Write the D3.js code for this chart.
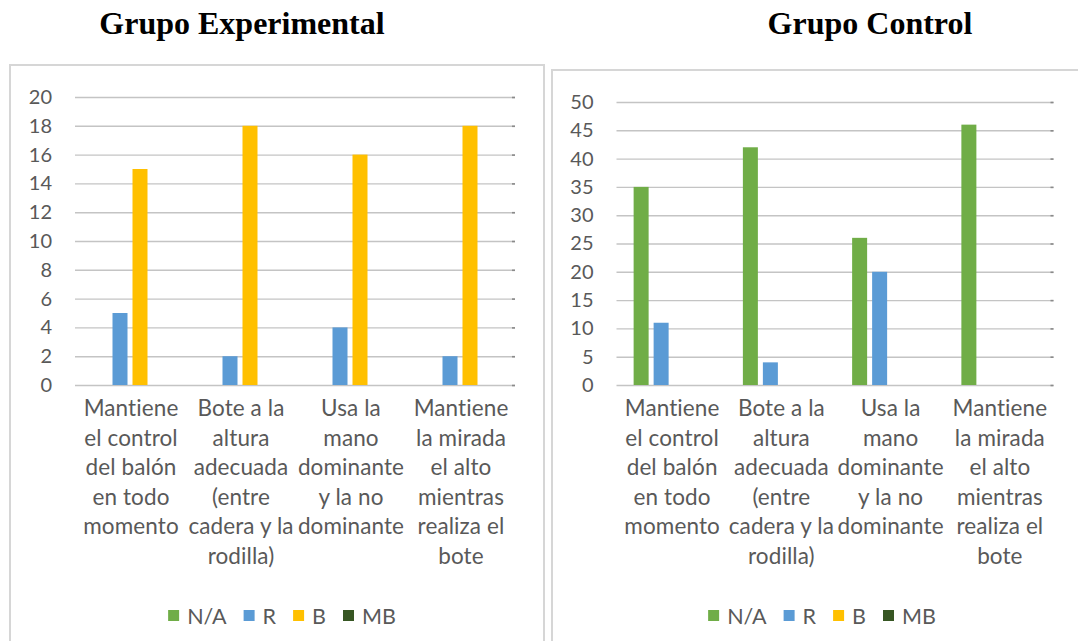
<!DOCTYPE html>
<html>
<head>
<meta charset="utf-8">
<script src="https://cdn.jsdelivr.net/npm/d3@7/dist/d3.min.js"></script>
<style>
  body { margin: 0; background: #fff; }
  .lbl { font-family: Lato, "Open Sans", sans-serif; fill: #595959; }
  .title { font-family: "Liberation Serif", "Times New Roman", serif; font-weight: bold; fill: #000; }
</style>
</head>
<body>
<div id="chart"></div>
<script>
/**
 * Data
 */
// category labels, one array of lines per category
var categories = [
  ["Mantiene", "el control", "del balón", "en todo", "momento"],
  ["Bote a la", "altura", "adecuada", "(entre", "cadera y la", "rodilla)"],
  ["Usa la", "mano", "dominante", "y la no", "dominante"],
  ["Mantiene", "la mirada", "el alto", "mientras", "realiza el", "bote"]
];
// series names and colours
var seriesNames = ["N/A", "R", "B", "MB"];
var seriesColors = ["#70ad47", "#5b9bd5", "#ffc000", "#375623"];

// Grupo Experimental
var expNA = [0, 0, 0, 0];
var expR  = [5, 2, 4, 2];
var expB  = [15, 18, 16, 18];
var expMB = [0, 0, 0, 0];
var expTicks = [0, 2, 4, 6, 8, 10, 12, 14, 16, 18, 20];

// Grupo Control
var ctlNA = [35, 42, 26, 46];
var ctlR  = [11, 4, 20, 0];
var ctlB  = [0, 0, 0, 0];
var ctlMB = [0, 0, 0, 0];
var ctlTicks = [0, 5, 10, 15, 20, 25, 30, 35, 40, 45, 50];

/**
 * Chart
 */
var svgWidth = 1078;
var svgHeight = 641;

var svg = d3.select("#chart")
  .append("svg")
  .attr("width", svgWidth)
  .attr("height", svgHeight);

// panel layouts
var panels = [
  {
    title: "Grupo Experimental", titleX: 242,
    box: { x: 10, y: 65, w: 534 },
    plot: { left: 75, right: 515, top: 97, bottom: 385 },
    values: [expNA, expR, expB, expMB], ticks: expTicks,
    legendCenter: 282
  },
  {
    title: "Grupo Control", titleX: 870,
    box: { x: 552, y: 70, w: 600 },
    plot: { left: 616.5, right: 1053.5, top: 102, bottom: 385 },
    values: [ctlNA, ctlR, ctlB, ctlMB], ticks: ctlTicks,
    legendCenter: 822
  }
];

/**
 * function draws one panel (title, frame, axes, bars, legend)
 * @param {*} p : panel layout and data
 */
function drawPanel(p) {
  // title above the frame
  svg.append("text")
    .attr("class", "title")
    .attr("x", p.titleX)
    .attr("y", 34)
    .attr("text-anchor", "middle")
    .style("font-size", "32px")
    .text(p.title);

  // chart frame (runs off the bottom of the picture)
  svg.append("rect")
    .attr("x", p.box.x)
    .attr("y", p.box.y)
    .attr("width", p.box.w)
    .attr("height", 700)
    .attr("fill", "none")
    .attr("stroke", "#d6d6d6")
    .attr("stroke-width", 2);

  var g = svg.append("g");

  // scales
  var yScale = d3.scaleLinear()
    .domain([0, p.ticks[p.ticks.length - 1]])
    .range([p.plot.bottom, p.plot.top]);

  var x0 = d3.scaleBand()
    .domain(d3.range(categories.length))
    .range([p.plot.left, p.plot.right])
    .padding(0);

  var x1 = d3.scaleBand()
    .domain(d3.range(seriesNames.length))
    .range([-40, 40])
    .paddingInner(0.25)
    .paddingOuter(0.125);

  // gridlines + tick labels via the left axis
  var yAxis = d3.axisLeft(yScale)
    .tickValues(p.ticks)
    .tickSize(-(p.plot.right - p.plot.left))
    .tickPadding(23)
    .tickFormat(d3.format("d"));

  var axisG = g.append("g")
    .attr("transform", `translate(${p.plot.left},0)`)
    .call(yAxis);
  axisG.select(".domain").remove();
  axisG.selectAll(".tick line")
    .attr("stroke", "#c4c4c4")
    .attr("stroke-width", 1.4);
  axisG.selectAll(".tick text")
    .attr("class", "lbl")
    .attr("fill", "#595959")
    .style("font-size", "20px");
  // small darker cap at the right end of each gridline
  axisG.selectAll(".tick").append("line")
    .attr("x1", p.plot.right - p.plot.left - 3)
    .attr("x2", p.plot.right - p.plot.left)
    .attr("stroke", "#8a8a8a")
    .attr("stroke-width", 1.6);

  // bars
  p.values.forEach((vals, s) => {
    g.append("g")
      .selectAll("rect")
      .data(vals)
      .enter().append("rect")
      .attr("x", (d, i) => x0(i) + x0.bandwidth() / 2 + x1(s))
      .attr("width", x1.bandwidth())
      .attr("y", d => yScale(d))
      .attr("height", d => yScale(0) - yScale(d))
      .attr("fill", seriesColors[s]);
  });

  // category labels
  var labels = g.append("g")
    .selectAll("text")
    .data(categories)
    .enter().append("text")
    .attr("class", "lbl")
    .attr("text-anchor", "middle")
    .style("font-size", "22.5px")
    .attr("x", (d, i) => x0(i) + x0.bandwidth() / 2 + 1)
    .attr("y", 416)
    .style("letter-spacing", "0.1px");
  labels.selectAll("tspan")
    .data(d => d)
    .enter().append("tspan")
    .attr("x", function() { return d3.select(this.parentNode).attr("x"); })
    .attr("dy", (d, i) => i === 0 ? 0 : 29.5)
    .text(d => d);

  // legend, centred
  var legend = g.append("g");
  var cursor = 0;
  seriesNames.forEach((name, s) => {
    var item = legend.append("g").attr("transform", `translate(${cursor},0)`);
    item.append("rect")
      .attr("x", 0).attr("y", -6)
      .attr("width", 11).attr("height", 11)
      .attr("fill", seriesColors[s]);
    var t = item.append("text")
      .attr("class", "lbl")
      .attr("x", 19)
      .attr("y", 7.5)
      .style("font-size", "21.5px")
      .text(name);
    cursor += 19 + t.node().getComputedTextLength() + 17;
  });
  var legendWidth = cursor - 17;
  legend.attr("transform", `translate(${p.legendCenter - legendWidth / 2},616)`);
}

panels.forEach(p => drawPanel(p));
</script>
</body>
</html>
